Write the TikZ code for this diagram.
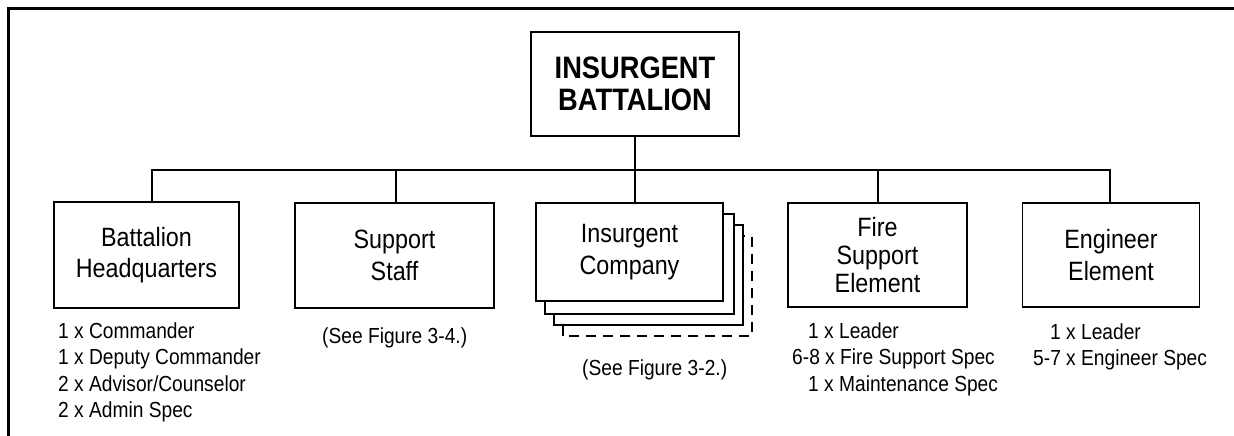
\documentclass[tikz,border=0pt]{standalone}
\usepackage{fontspec}
\setmainfont[FakeStretch=0.88]{Liberation Sans}
\usetikzlibrary{backgrounds}
\tikzset{
    unit-box/.style = {draw=black, fill=white, line width=1.8pt, rectangle, align=center, inner sep=0pt, font=\fontsize{26.5}{31.5}\selectfont},
    unit-title/.style = {unit-box, minimum width=208pt, minimum height=104pt, font=\fontsize{31}{32}\selectfont\bfseries},
    roster-text/.style = {align=left, inner sep=0pt, font=\fontsize{21.8}{26.5}\selectfont},
    org-line/.style = {line width=1.8pt},
    frame-line/.style = {line width=3.2pt},
}
\begin{document}
\begin{tikzpicture}[x=1pt, y=-1pt]
\useasboundingbox (0,0) rectangle (1234,436);
\draw[frame-line] (7,8.5) -- (1234,8.5);
\draw[frame-line] (8.5,7) -- (8.5,436);

\node[unit-title] (battalion) at (635,84) {INSURGENT\\BATTALION};
\coordinate (bus) at (635,170);

\node[unit-box, minimum width=185pt, minimum height=106pt] (hq) at (146.5,255) {Battalion\\Headquarters};
\node[unit-box, minimum width=199pt, minimum height=105pt] (staff) at (394.5,255.5) {Support\\Staff};
\node[unit-box, minimum width=187pt, minimum height=98pt] (company) at (629.5,252) {Insurgent\\Company};
\node[unit-box, minimum width=179pt, minimum height=104pt, font=\fontsize{26.5}{28}\selectfont] (fire) at (877.5,255) {Fire\\Support\\Element};
\node[unit-box, minimum width=177pt, minimum height=104pt] (eng) at (1111,255) {Engineer\\Element};

% stacked companies behind the front box
\begin{scope}[on background layer]
\draw[org-line, fill=white, dash pattern=on 10pt off 7pt] ([shift={(28,34)}]company.south west) rectangle ([shift={(28,34)}]company.north east);
\draw[org-line, fill=white] ([shift={(19,23)}]company.south west) rectangle ([shift={(19,23)}]company.north east);
\draw[org-line, fill=white] ([shift={(10,12)}]company.south west) rectangle ([shift={(10,12)}]company.north east);
\end{scope}

\draw[org-line] (battalion.south) -- (bus);
\foreach \u/\dx in {hq/5.5, staff/1.5, company/5.5, fire/0.5, eng/-1}
    \draw[org-line] (bus) -| ([xshift=\dx pt]\u.north);

\node[roster-text, anchor=north west] (hq-roster) at (58,322.1) {1 x Commander\\1 x Deputy Commander\\2 x Advisor/Counselor\\2 x Admin Spec};
\node[roster-text, anchor=base west] (staff-note) at (322,343) {(See Figure 3-4.)};
\node[roster-text, anchor=base west] (company-note) at (582,375) {(See Figure 3-2.)};
\node[roster-text, anchor=north west] (fire-roster) at (792,322.1) {\hspace*{16pt}1 x Leader\\6-8 x Fire Support Spec\\\hspace*{16pt}1 x Maintenance Spec};
\node[roster-text, anchor=north west] (eng-roster) at (1033,323.1) {\hspace*{17pt}1 x Leader\\5-7 x Engineer Spec};
\end{tikzpicture}
\end{document}
